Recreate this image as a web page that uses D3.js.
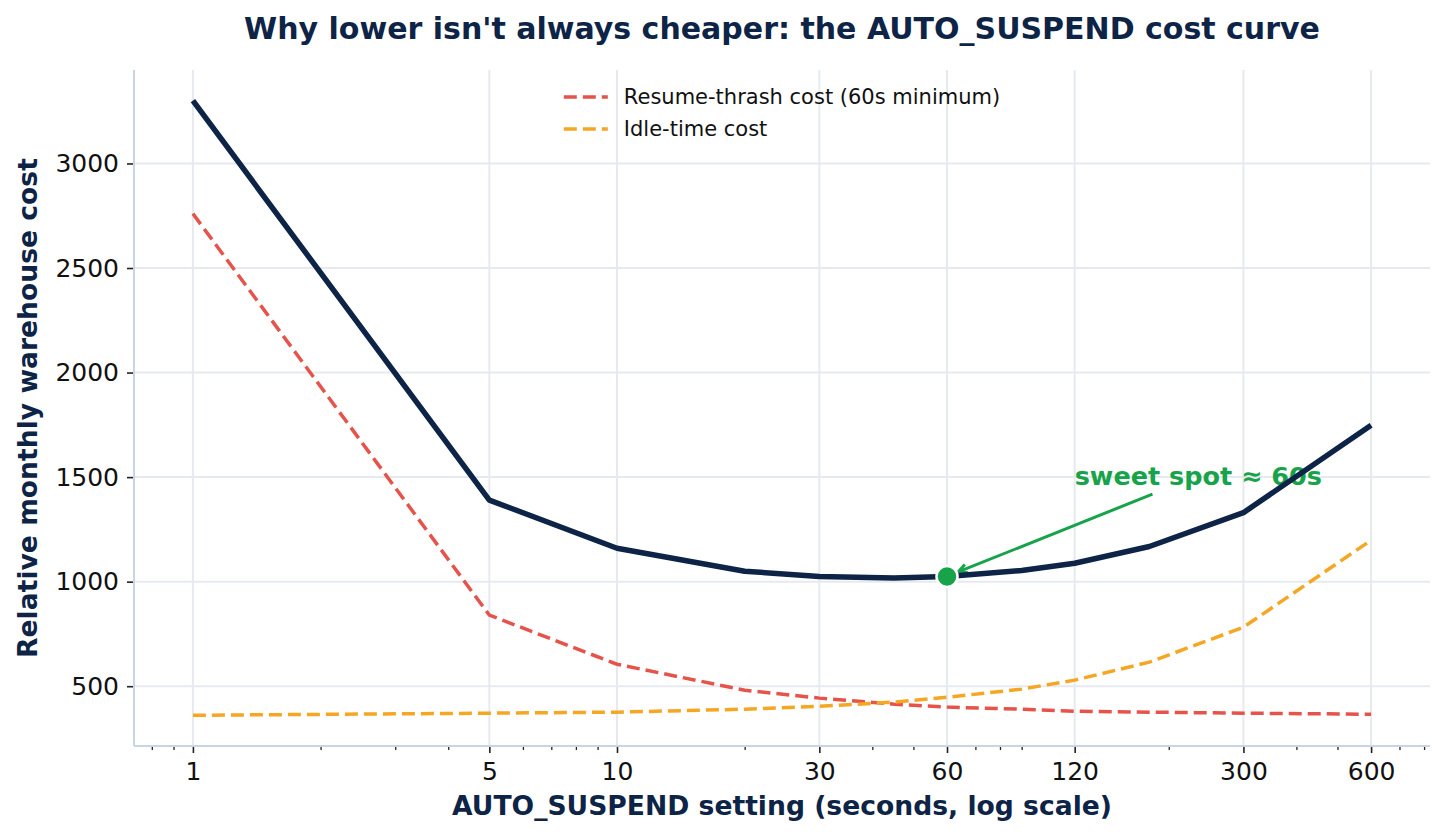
<!DOCTYPE html>
<html>
<head>
<meta charset="utf-8">
<script src="https://cdn.jsdelivr.net/npm/d3@7"></script>
<style>
  body { margin: 0; background: #fff; }
  text { font-family: "DejaVu Sans", sans-serif; }
</style>
</head>
<body>
<div id="chart"></div>
<script>
// AUTO_SUSPEND settings (seconds) and the cost series
const settings   = [1, 5, 10, 20, 30, 45, 60, 90, 120, 180, 300, 600];
const totalCost  = [3300, 1390, 1160, 1050, 1025, 1017, 1025, 1053, 1088, 1168, 1330, 1748];
const thrashCost = [2760, 840, 605, 481, 443, 414, 400, 390, 380, 376, 371, 366];
const idleCost   = [361, 371, 376, 390, 404, 424, 447, 486, 529, 615, 782, 1198];

const xTickValues = [1, 5, 10, 30, 60, 120, 300, 600];
const yTickValues = [500, 1000, 1500, 2000, 2500, 3000];

const seriesNames = ["Resume-thrash cost (60s minimum)", "Idle-time cost"];
const sweetSpot = { x: 60, y: 1025, textX: 120, textY: 1500, label: "sweet spot \u2248 60s" };

const navy = "#0d2447", red = "#e5534b", orange = "#f5a623", green = "#16a34a";

const W = 1446, H = 838;
const margin = { top: 70, right: 16, bottom: 92, left: 134 };
const width = W - margin.left - margin.right;
const height = H - margin.top - margin.bottom;

const svgRoot = d3.select("#chart").append("svg")
  .attr("width", W).attr("height", H)
  .style("background", "#fff");

const svg = svgRoot.append("g")
  .attr("transform", `translate(${margin.left}, ${margin.top})`);

// matplotlib-like 5% margins (log space on x)
const lx = d3.extent(settings).map(Math.log10);
const padX = (lx[1] - lx[0]) * 0.05;
const allY = totalCost.concat(thrashCost, idleCost);
const ey = d3.extent(allY);
const padY = (ey[1] - ey[0]) * 0.05;

const x = d3.scaleLog()
  .domain([Math.pow(10, lx[0] - padX), Math.pow(10, lx[1] + padX)])
  .range([0, width]);
const y = d3.scaleLinear()
  .domain([ey[0] - padY, ey[1] + padY])
  .range([height, 0]);

// grid
svg.append("g")
  .selectAll("line")
  .data(xTickValues).enter().append("line")
  .attr("x1", d => x(d)).attr("x2", d => x(d))
  .attr("y1", 0).attr("y2", height)
  .attr("stroke", "#e6eaf0").attr("stroke-width", 2);
svg.append("g")
  .selectAll("line")
  .data(yTickValues).enter().append("line")
  .attr("x1", 0).attr("x2", width)
  .attr("y1", d => y(d)).attr("y2", d => y(d))
  .attr("stroke", "#e6eaf0").attr("stroke-width", 2);

// axes
const minorTicks = x.ticks().filter(v => {
  const m = v / Math.pow(10, Math.floor(Math.log10(v) + 1e-9));
  return Math.abs(m - 1) > 1e-6 && !xTickValues.includes(v);
});

const xMinor = svg.append("g")
  .attr("transform", `translate(0, ${height})`)
  .call(d3.axisBottom(x).tickValues(minorTicks).tickSize(4).tickFormat(""));
xMinor.select(".domain").remove();
xMinor.selectAll("line").attr("stroke", "#222").attr("stroke-width", 1.3);

const xAxis = svg.append("g")
  .attr("transform", `translate(0, ${height})`)
  .call(d3.axisBottom(x).tickValues(xTickValues).tickSize(7).tickPadding(9)
    .tickFormat(d3.format("d")));
xAxis.select(".domain").remove();
xAxis.selectAll("line").attr("stroke", "#222").attr("stroke-width", 1.6);
xAxis.selectAll("text")
  .attr("fill", "#111")
  .style("font-size", "25px")
  .style("font-family", "DejaVu Sans");

const yAxis = svg.append("g")
  .call(d3.axisLeft(y).tickValues(yTickValues).tickSize(7).tickPadding(8)
    .tickFormat(d3.format("d")));
yAxis.select(".domain").remove();
yAxis.selectAll("line").attr("stroke", "#222").attr("stroke-width", 1.6);
yAxis.selectAll("text")
  .attr("fill", "#111")
  .style("font-size", "25px")
  .style("font-family", "DejaVu Sans");

// spines
svg.append("line").attr("x1", 0).attr("x2", 0).attr("y1", 0).attr("y2", height)
  .attr("stroke", "#cbd5e1").attr("stroke-width", 2);
svg.append("line").attr("x1", 0).attr("x2", width).attr("y1", height).attr("y2", height)
  .attr("stroke", "#cbd5e1").attr("stroke-width", 2);

// series
const lineOf = vals => d3.line()
  .x((d, i) => x(settings[i]))
  .y(d => y(d))(vals);

svg.append("path")
  .attr("d", lineOf(thrashCost))
  .attr("fill", "none").attr("stroke", red)
  .attr("stroke-width", 3.5).attr("stroke-dasharray", "13,6");

svg.append("path")
  .attr("d", lineOf(idleCost))
  .attr("fill", "none").attr("stroke", orange)
  .attr("stroke-width", 3.5).attr("stroke-dasharray", "13,6");

// annotation text + arrow
const ann = svg.append("text")
  .attr("x", x(sweetSpot.textX))
  .attr("y", y(sweetSpot.textY))
  .attr("dy", "0.3em")
  .attr("fill", green)
  .style("font-size", "25.5px")
  .style("font-weight", "bold")
  .text(sweetSpot.label);

const bb = ann.node().getBBox();
const cx = bb.x + bb.width / 2, cy = bb.y + bb.height / 2;
const tx = x(sweetSpot.x), ty = y(sweetSpot.y);
const dx = tx - cx, dy = ty - cy;
const len = Math.hypot(dx, dy);
const ux = dx / len, uy = dy / len;
// leave the text box through its nearest edge
const tEdge = Math.min(
  Math.abs((bb.height / 2 + 3) / uy),
  Math.abs((bb.width / 2 + 3) / ux)
);
const sx = cx + ux * (tEdge + 1), sy = cy + uy * (tEdge + 1);
const ex = tx - ux * 12, ey2 = ty - uy * 12;

svg.append("line")
  .attr("x1", sx).attr("y1", sy).attr("x2", ex).attr("y2", ey2)
  .attr("stroke", green).attr("stroke-width", 3);
const hl = 9, hw = 4.5;
const px = -uy, py = ux;
svg.append("path")
  .attr("d", `M${ex - ux * hl + px * hw},${ey2 - uy * hl + py * hw} L${ex},${ey2} L${ex - ux * hl - px * hw},${ey2 - uy * hl - py * hw}`)
  .attr("fill", "none").attr("stroke", green).attr("stroke-width", 3);

// total cost line
svg.append("path")
  .attr("d", lineOf(totalCost))
  .attr("fill", "none").attr("stroke", navy)
  .attr("stroke-width", 5.5).attr("stroke-linejoin", "round");

// sweet spot marker
svg.append("circle")
  .attr("cx", x(sweetSpot.x)).attr("cy", y(sweetSpot.y))
  .attr("r", 10.5)
  .attr("fill", green).attr("stroke", "#fff").attr("stroke-width", 2.5);

// legend (upper center, no frame)
const legend = svg.append("g");
const legendColors = [red, orange];
const items = legend.selectAll("g").data(seriesNames).enter().append("g")
  .attr("transform", (d, i) => `translate(0, ${27 + i * 32})`);
items.append("line")
  .attr("x1", 0).attr("x2", 44).attr("y1", 0).attr("y2", 0)
  .attr("stroke", (d, i) => legendColors[i])
  .attr("stroke-width", 3.5).attr("stroke-dasharray", "13,6");
items.append("text")
  .attr("x", 60).attr("dy", "0.35em")
  .attr("fill", "#111")
  .style("font-size", "21px")
  .text(d => d);
const lw = legend.node().getBBox().width;
legend.attr("transform", `translate(${width / 2 - lw / 2}, 0)`);

// axis labels and title
svgRoot.append("text")
  .attr("x", margin.left + width / 2).attr("y", 815)
  .attr("text-anchor", "middle")
  .attr("fill", navy)
  .style("font-size", "26.6px").style("font-weight", "bold")
  .text("AUTO_SUSPEND setting (seconds, log scale)");

svgRoot.append("text")
  .attr("transform", `translate(37, ${margin.top + height / 2}) rotate(-90)`)
  .attr("text-anchor", "middle")
  .attr("fill", navy)
  .style("font-size", "26.6px").style("font-weight", "bold")
  .text("Relative monthly warehouse cost");

svgRoot.append("text")
  .attr("x", margin.left + width / 2).attr("y", 39)
  .attr("text-anchor", "middle")
  .attr("fill", navy)
  .style("font-size", "30px").style("font-weight", "bold")
  .text("Why lower isn't always cheaper: the AUTO_SUSPEND cost curve");
</script>
</body>
</html>
